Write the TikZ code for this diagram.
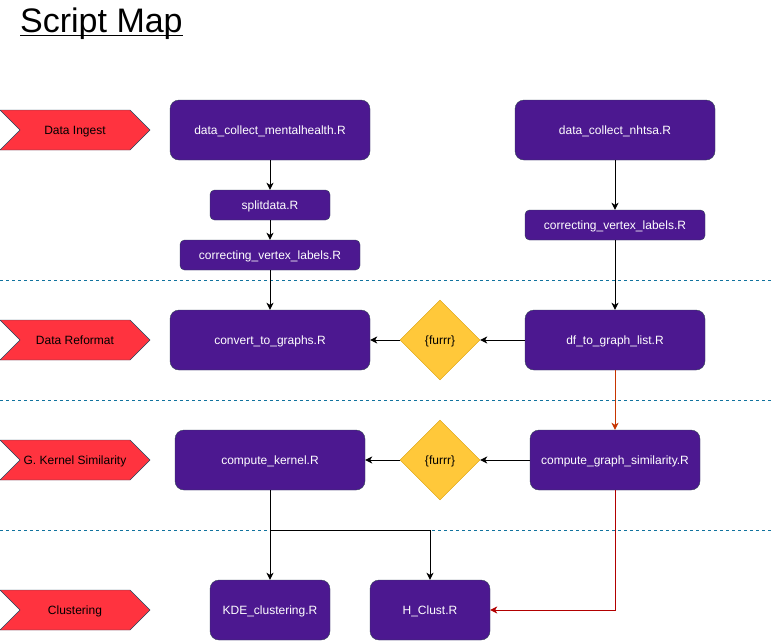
\documentclass[tikz,border=0pt]{standalone}
\usepackage{fontspec}
\setmainfont{Liberation Sans}
\usetikzlibrary{arrows.meta}
\usetikzlibrary{shapes.geometric}
\definecolor{scriptfill}{HTML}{4C1890}
\definecolor{scriptline}{HTML}{314354}
\definecolor{furrrfill}{HTML}{FFC83A}
\definecolor{furrrline}{HTML}{D79B00}
\definecolor{stagefill}{HTML}{FF333F}
\definecolor{stageline}{HTML}{23445D}
\definecolor{laneline}{HTML}{10739E}
\definecolor{reflow}{HTML}{C73500}
\definecolor{clustflow}{HTML}{B20000}
\tikzset{
    script/.style={
        draw=scriptline, fill=scriptfill, text=white,
        rounded corners=#1, inner sep=0pt,
        text height=9pt, text depth=0pt,
        font=\fontsize{12}{14}\selectfont
    },
    script/.default=9pt,
    furrr/.style={
        diamond, aspect=1, draw=furrrline, fill=furrrfill,
        minimum width=80pt, minimum height=80pt, inner sep=0pt,
        text height=9pt, text depth=0pt,
        font=\fontsize{12}{14}\selectfont
    },
    stage/.style={draw=stageline, fill=stagefill},
    stagetext/.style={inner sep=0pt, text height=9pt, text depth=0pt, font=\fontsize{12}{14}\selectfont},
    lane/.style={draw=laneline, dash pattern=on 3pt off 3pt},
    flow/.style={-{Stealth[length=7pt,width=7pt,inset=2pt]}, line width=1pt}
}
\newcommand{\scriptbox}[7] {
	\node[script=#7, minimum width=#4pt, minimum height=#5pt] (#1) at (#2,#3) {#6};
}
\newcommand{\stage}[3] {
	\draw[stage] (0,#2-20) -- (130,#2-20) -- (150,#2) -- (130,#2+20) -- (0,#2+20) -- (20,#2) -- cycle;
	\node[stagetext] (#1) at (75,#2) {#3};
}

\begin{document}
\begin{tikzpicture}[x=1pt,y=-1pt]
		\useasboundingbox (0,0) rectangle (772,641);

		% title
		\node[anchor=base west, inner sep=0pt, font=\fontsize{34}{38}\selectfont] (title) at (20,32) {Script Map};
		\draw[line width=1.6pt] ([yshift=-3.5pt]title.base west) -- ([yshift=-3.5pt]title.base east);

		% lanes
		\draw[lane] (0,280) -- (772,280);
		\draw[lane] (0,400) -- (772,400);
		\draw[lane] (0,530) -- (772,530);

		\stage{ingest}{130}{Data Ingest}
		\stage{reformat}{340}{Data Reformat}
		\stage{kernelsim}{460}{G. Kernel Similarity}
		\stage{clustering}{610}{Clustering}

		% mental health
		\scriptbox{mh}{270}{130}{200}{60}{data\_collect\_mentalhealth.R}{9pt}
		\scriptbox{split}{270}{205}{120}{30}{splitdata.R}{4.5pt}
		\scriptbox{cvlL}{270}{255}{180}{30}{correcting\_vertex\_labels.R}{4.5pt}
		\scriptbox{convert}{270}{340}{200}{60}{convert\_to\_graphs.R}{9pt}
		\scriptbox{kernel}{270}{460}{190}{60}{compute\_kernel.R}{9pt}

		% nhtsa
		\scriptbox{nhtsa}{615}{130}{200}{60}{data\_collect\_nhtsa.R}{9pt}
		\scriptbox{cvlR}{615}{225}{180}{30}{correcting\_vertex\_labels.R}{4.5pt}
		\scriptbox{df}{615}{340}{180}{60}{df\_to\_graph\_list.R}{9pt}
		\scriptbox{cgs}{615}{460}{170}{60}{compute\_graph\_similarity.R}{9pt}

		% clustering
		\scriptbox{kde}{270}{610}{120}{60}{KDE\_clustering.R}{9pt}
		\scriptbox{hclust}{430}{610}{120}{60}{H\_Clust.R}{9pt}

		\node[furrr] (furrrA) at (440,340) {\{furrr\}};
		\node[furrr] (furrrB) at (440,460) {\{furrr\}};

		\draw[flow] (mh) -- (split);
		\draw[flow] (split) -- (cvlL);
		\draw[flow] (cvlL) -- (convert);
		\draw[flow] (nhtsa) -- (cvlR);
		\draw[flow] (cvlR) -- (df);
		\draw[flow] (df) -- (furrrA);
		\draw[flow] (furrrA) -- (convert);
		\draw[flow, draw=reflow] (df) -- (cgs);
		\draw[flow] (cgs) -- (furrrB);
		\draw[flow] (furrrB) -- (kernel);
		\draw[flow] (kernel) -- (kde);
		\draw[flow] (kernel.south) -- ++(0,40) -| (hclust.north);
		\draw[flow, draw=clustflow] (cgs.south) |- (hclust.east);

	\end{tikzpicture}
\end{document}
